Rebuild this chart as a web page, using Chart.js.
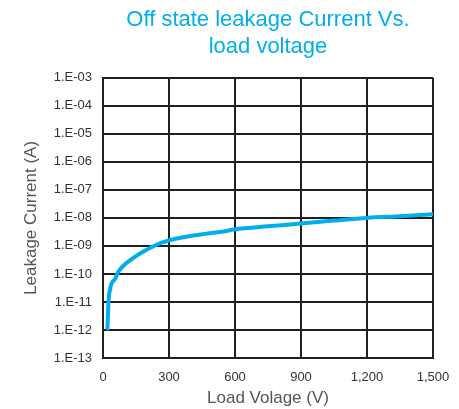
<!DOCTYPE html>
<html>
<head>
<meta charset="utf-8">
<script src="https://cdn.jsdelivr.net/npm/chart.js@4.4.0/dist/chart.umd.min.js"></script>
<style>
  html, body { margin: 0; padding: 0; background: #fff; }
  #wrap { width: 459px; height: 409px; }
</style>
</head>
<body>
<div id="wrap"><canvas id="leakChart" width="459" height="409"></canvas></div>
<script>
// values
const voltage = [17, 20, 25, 30, 32, 36, 45, 55, 70, 100, 140, 176, 220, 267, 330, 418, 494, 540, 600, 750, 900, 1050, 1200, 1350, 1500];
const leakage = [1e-12, 1.1e-12, 1e-11, 2.5e-11, 2.6e-11, 4e-11, 5.5e-11, 6.6e-11, 1.2e-10, 2.2e-10, 3.8e-10, 5.8e-10, 9e-10, 1.3e-9, 1.8e-9, 2.4e-9, 2.9e-9, 3.2e-9, 3.9e-9, 5e-9, 6.3e-9, 8e-9, 1e-8, 1.15e-8, 1.35e-8];
const xTicks = [0, 300, 600, 900, 1200, 1500];
const yExponents = [-13, -12, -11, -10, -9, -8, -7, -6, -5, -4, -3];

const points = voltage.map((v, i) => ({ x: v, y: leakage[i] }));

function sciLabel(val) {
  const e = Math.round(Math.log10(val));
  const s = e < 0 ? '-' : '+';
  const a = Math.abs(e);
  return '1.E' + s + (a < 10 ? '0' + a : a);
}

const gridColor = '#231f20';
const fontFamily = 'Liberation Sans, Arial, sans-serif';

new Chart(document.getElementById('leakChart').getContext('2d'), {
  type: 'line',
  data: {
    datasets: [{
      data: points,
      borderColor: '#00aeef',
      borderWidth: 4,
      pointRadius: 0,
      tension: 0.3,
      fill: false
    }]
  },
  options: {
    responsive: false,
    animation: false,
    layout: { padding: { left: 21, right: 26, top: 0, bottom: 0 } },
    plugins: {
      legend: { display: false },
      tooltip: { enabled: false },
      title: {
        display: true,
        fullSize: false,
        text: ['Off state leakage Current Vs.', 'load voltage'],
        color: '#00aeef',
        font: { family: fontFamily, size: 22, weight: 'normal' },
        lineHeight: 1.05,
        padding: { top: 7, bottom: 18 }
      }
    },
    scales: {
      x: {
        type: 'linear',
        min: 0,
        max: 1500,
        afterBuildTicks: (scale) => { scale.ticks = xTicks.map(v => ({ value: v })); },
        ticks: {
          color: '#333',
          font: { family: fontFamily, size: 13 },
          maxRotation: 0,
          padding: 12,
          callback: (v) => v.toLocaleString('en-US')
        },
        grid: { color: gridColor, lineWidth: 2, drawTicks: false },
        border: { color: gridColor, width: 2 },
        title: {
          display: true,
          text: 'Load Volage (V)',
          color: '#555',
          font: { family: fontFamily, size: 17 },
          padding: { top: 0, bottom: 0 }
        },
        afterFit: (scale) => {
          scale.height = 51;
          scale.paddingLeft = 0;
          scale.paddingRight = 0;
        }
      },
      y: {
        type: 'logarithmic',
        min: 1e-13,
        max: 1e-3,
        afterBuildTicks: (scale) => { scale.ticks = yExponents.map(e => ({ value: Math.pow(10, e) })); },
        ticks: {
          color: '#333',
          font: { family: fontFamily, size: 13 },
          padding: 11,
          callback: (v) => sciLabel(v)
        },
        grid: { color: gridColor, lineWidth: 2, drawTicks: false },
        border: { color: gridColor, width: 2 },
        title: {
          display: true,
          text: 'Leakage Current (A)',
          color: '#555',
          font: { family: fontFamily, size: 17 },
          padding: { top: 0, bottom: 4 }
        },
        afterFit: (scale) => { scale.width = 82; }
      }
    }
  }
});
</script>
</body>
</html>
